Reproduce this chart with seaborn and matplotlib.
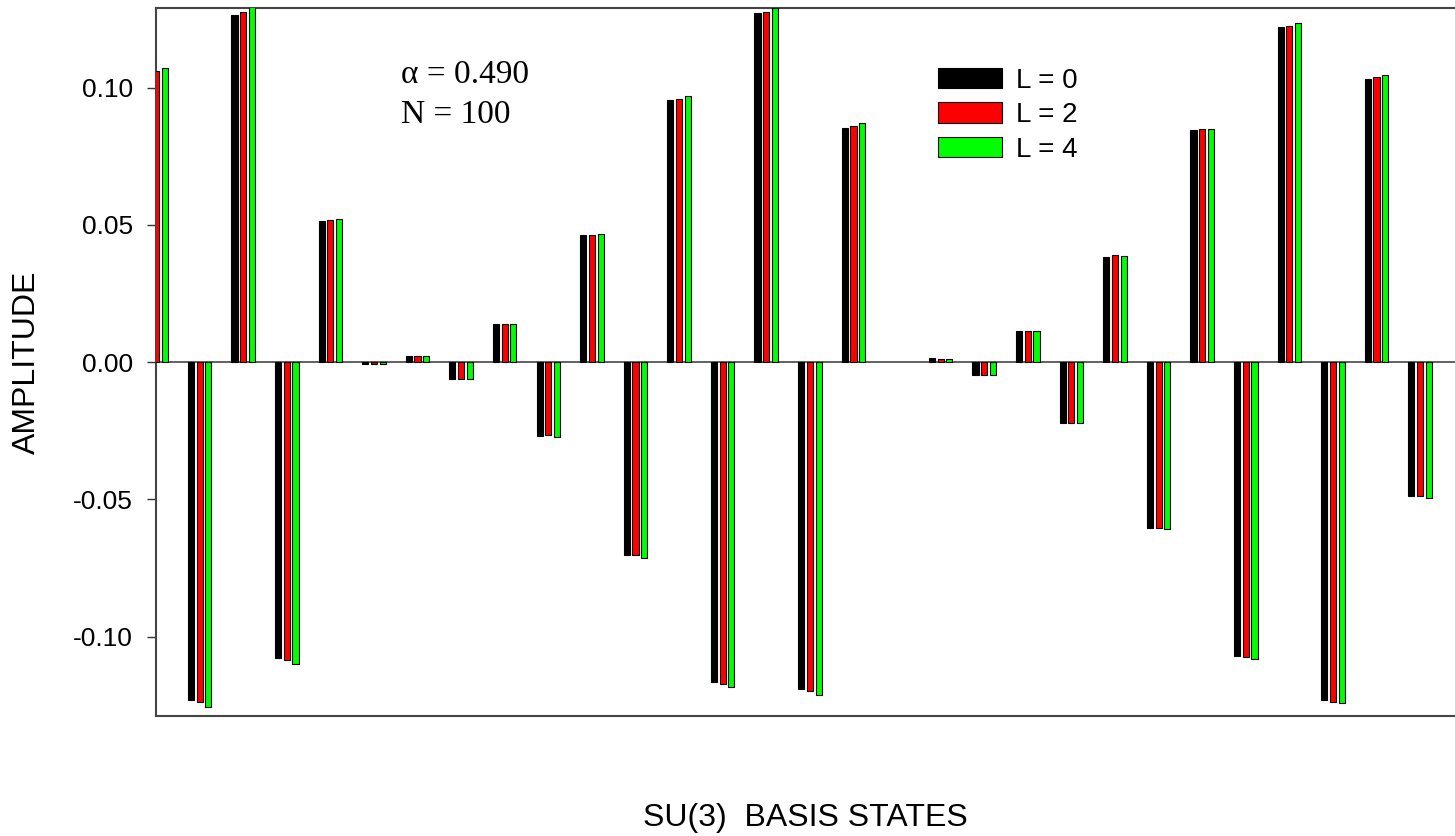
import matplotlib
matplotlib.use("Agg")
import matplotlib.pyplot as plt
import seaborn as sns
import numpy as np
import pandas as pd
from matplotlib.ticker import FixedLocator, FixedFormatter

# SU(3) basis-state amplitudes for three angular momenta (NaN: no bar drawn)
states = list(range(1, 31))
amp_L0 = [0.1050, -0.1229, 0.1266, -0.1077, 0.0513, -0.0006, 0.0024, -0.0061, 0.0140, -0.0270,
          0.0463, -0.0702, 0.0956, -0.1164, 0.1270, -0.1190, 0.0852, np.nan, 0.0015, -0.0047,
          0.0113, -0.0220, 0.0384, -0.0604, 0.0846, -0.1071, 0.1220, -0.1232, 0.1033, -0.0488]
amp_L2 = [0.1059, -0.1238, 0.1274, -0.1086, 0.0517, -0.0006, 0.0023, -0.0061, 0.0139, -0.0267,
          0.0463, -0.0702, 0.0960, -0.1172, 0.1274, -0.1198, 0.0860, np.nan, 0.0013, -0.0046,
          0.0113, -0.0220, 0.0389, -0.0604, 0.0851, -0.1075, 0.1225, -0.1237, 0.1038, -0.0488]
amp_L4 = [0.1073, -0.1257, 0.1300, -0.1099, 0.0521, -0.0006, 0.0022, -0.0061, 0.0139, -0.0273,
          0.0468, -0.0712, 0.0968, -0.1183, 0.1290, -0.1212, 0.0870, np.nan, 0.0013, -0.0046,
          0.0113, -0.0221, 0.0388, -0.0607, 0.0851, -0.1080, 0.1234, -0.1241, 0.1047, -0.0494]
series_labels = ["L = 0", "L = 2", "L = 4"]
series_colors = ["#000000", "#ff0000", "#00ff00"]
ytick_values = [-0.10, -0.05, 0.00, 0.05, 0.10]
ytick_labels = ["-0.10", "-0.05", "0.00", "0.05", "0.10"]

df = pd.DataFrame({
    "state": states * 3,
    "amplitude": amp_L0 + amp_L2 + amp_L4,
    "L": [series_labels[0]] * len(states) + [series_labels[1]] * len(states)
         + [series_labels[2]] * len(states),
})

sns.set_style("ticks")
plt.rcParams["font.family"] = ["Liberation Sans", "DejaVu Sans"]
plt.rcParams["axes.unicode_minus"] = False
plt.rcParams["text.color"] = "black"
plt.rcParams["axes.labelcolor"] = "black"
plt.rcParams["ytick.color"] = "black"
plt.rcParams["xtick.color"] = "black"

W, H = 1455, 836
fig = plt.figure(figsize=(W / 100, H / 100), dpi=100)
ax_left, ax_right, ax_top, ax_bottom = 156, 1455, 8, 715.7
ax = fig.add_axes([ax_left / W, 1 - ax_bottom / H, (ax_right - ax_left) / W, (ax_bottom - ax_top) / H])

sns.barplot(data=df, x="state", y="amplitude", hue="L", hue_order=series_labels,
            order=states, palette=series_colors, saturation=1, width=0.6, gap=0.3,
            edgecolor="black", linewidth=0.8, errorbar=None, ax=ax, zorder=3)

ax.axhline(0, color="#555555", lw=1.3, zorder=2)
ax.set_xlim(0, 29.8)
ax.set_ylim(-0.1288, 0.1290)

ax.set_xticks([])
ax.yaxis.set_major_locator(FixedLocator(ytick_values))
ax.yaxis.set_major_formatter(FixedFormatter(ytick_labels))
ax.tick_params(axis="y", direction="out", length=6.5, width=1.0, pad=10,
               labelsize=19, color="#333333", labelcolor="black")

for side in ["left", "top", "bottom"]:
    ax.spines[side].set_color("#444444")
    ax.spines[side].set_linewidth(1.5)
ax.spines["right"].set_visible(False)

ax.set_xlabel("SU(3)  BASIS STATES", fontsize=23, color="black")
ax.xaxis.set_label_coords(0.5, -0.123)
ax.set_ylabel("AMPLITUDE", fontsize=23, color="black")
ax.yaxis.set_label_coords(-0.088, 0.5)

fig.text(401 / W, 1 - 83 / H, "α = 0.490", family="Liberation Serif", fontsize=24,
         ha="left", va="baseline", color="black")
fig.text(401 / W, 1 - 123 / H, "N = 100", family="Liberation Serif", fontsize=24,
         ha="left", va="baseline", color="black")

handles, labels = ax.get_legend_handles_labels()
if ax.get_legend() is not None:
    ax.get_legend().remove()
ax.legend(handles, labels, loc="upper left", bbox_to_anchor=(938 / W, 1 - 68 / H),
          bbox_transform=fig.transFigure, frameon=False, fontsize=20,
          handlelength=2.3, handleheight=0.75, handletextpad=0.5,
          labelspacing=0.3, borderpad=0, borderaxespad=0)

fig.savefig("out.png", dpi=100)
